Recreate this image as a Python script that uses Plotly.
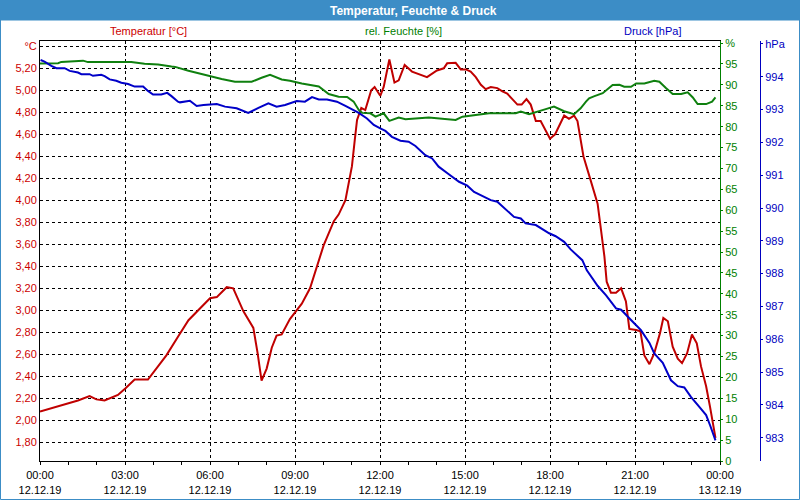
import pandas as pd
import plotly.graph_objects as go

# ---------------- data (hours after 12.12.19 00:00) ----------------
temp_hours = [0.00, 0.40, 0.87, 1.34, 1.75, 1.99, 2.28, 2.75, 3.01, 3.34, 3.81, 3.99, 4.46, 4.87,
              5.24, 6.00, 6.24, 6.59, 6.82, 7.18, 7.53, 7.68, 7.82, 8.00, 8.18, 8.35, 8.53, 8.82,
              9.24, 9.53, 9.71, 10.01, 10.37, 10.54, 10.78, 10.90, 11.01, 11.11, 11.19, 11.34,
              11.48, 11.69, 11.81, 12.01, 12.13, 12.33, 12.51, 12.66, 12.87, 13.13, 13.42, 13.66,
              14.01, 14.25, 14.37, 14.67, 14.85, 15.03, 15.20, 15.38, 15.56, 15.73, 15.91, 16.14,
              16.32, 16.49, 16.67, 16.85, 17.00, 17.17, 17.32, 17.50, 17.67, 17.85, 18.00, 18.18,
              18.34, 18.50, 18.67, 18.85, 18.97, 19.08, 19.18, 19.39, 19.57, 19.68, 19.80, 19.92,
              20.00, 20.15, 20.33, 20.51, 20.68, 20.80, 21.04, 21.19, 21.33, 21.51, 21.68, 21.88,
              22.00, 22.16, 22.33, 22.51, 22.66, 22.84, 23.01, 23.18, 23.33, 23.51, 23.65, 23.74, 23.84]
temp_values = [2.08, 2.11, 2.15, 2.18, 2.22, 2.19, 2.18, 2.23, 2.29, 2.37, 2.37, 2.43, 2.59, 2.76,
               2.91, 3.11, 3.12, 3.21, 3.20, 2.99, 2.84, 2.61, 2.36, 2.47, 2.66, 2.77, 2.78, 2.92,
               3.06, 3.20, 3.35, 3.59, 3.81, 3.87, 4.00, 4.16, 4.31, 4.55, 4.73, 4.84,
               4.82, 5.00, 5.03, 4.95, 5.03, 5.28, 5.07, 5.09, 5.23, 5.17, 5.14, 5.12,
               5.18, 5.20, 5.245, 5.25, 5.19, 5.19, 5.17, 5.12, 5.05, 5.01, 5.03, 5.02,
               4.99, 4.97, 4.92, 4.87, 4.87, 4.92, 4.87, 4.72, 4.72, 4.64, 4.56, 4.60,
               4.69, 4.77, 4.74, 4.77, 4.72, 4.55, 4.40, 4.22, 4.06, 3.97, 3.73, 3.49,
               3.26, 3.16, 3.16, 3.20, 3.08, 2.83, 2.82, 2.81, 2.59, 2.51, 2.61, 2.79,
               2.93, 2.90, 2.67, 2.56, 2.52, 2.61, 2.78, 2.70, 2.49, 2.31, 2.12, 1.97, 1.84]

hum_hours = [0.00, 0.64, 0.75, 1.52, 1.69, 3.22, 3.69, 4.17, 4.64, 4.77, 5.24, 5.59, 6.00, 6.41,
             6.88, 7.47, 7.82, 8.12, 8.53, 8.82, 9.24, 9.71, 9.84, 10.19, 10.54, 10.84, 11.07,
             11.25, 11.37, 11.66, 11.84, 12.13, 12.33, 12.66, 12.90, 13.72, 14.31, 14.54, 14.67,
             14.91, 15.38, 15.85, 16.79, 16.97, 17.26, 17.61, 17.85, 18.14, 18.50, 18.85, 19.08,
             19.27, 19.38, 19.57, 19.86, 20.21, 20.45, 20.62, 20.86, 21.04, 21.33, 21.68, 21.86,
             22.10, 22.33, 22.63, 22.86, 23.04, 23.21, 23.51, 23.72, 23.84]
hum_values = [95.1, 95.2, 95.5, 95.8, 95.45, 95.45, 95.05, 94.9, 94.4, 94.3, 93.4, 92.75, 92.1, 91.4,
              90.75, 90.75, 91.7, 92.4, 91.3, 91.0, 90.35, 89.7, 89.6, 87.8, 87.15, 87.1, 86.0,
              84.0, 83.3, 83.2, 82.4, 83.2, 81.4, 82.2, 81.8, 82.2, 81.8, 81.6, 81.6,
              82.4, 82.85, 83.2, 83.2, 83.6, 83.0, 83.8, 84.2, 84.8, 83.7, 83.0, 84.4,
              86.0, 86.8, 87.3, 88.0, 89.95, 90.0, 89.55, 89.55, 90.35, 90.35, 91.0, 90.75,
              89.2, 87.8, 87.8, 88.2, 87.0, 85.4, 85.4, 86.0, 87.0]

pres_hours = [0.02, 0.16, 0.40, 0.58, 0.87, 1.05, 1.34, 1.46, 1.75, 1.87, 2.16, 2.28, 2.46, 2.69,
              2.87, 3.11, 3.34, 3.64, 3.81, 3.99, 4.28, 4.49, 4.64, 4.77, 4.87, 4.94, 5.29, 5.53,
              5.77, 6.24, 6.53, 6.94, 7.35, 7.71, 8.06, 8.35, 8.65, 9.06, 9.35, 9.60, 9.84, 10.13,
              10.48, 10.78, 11.01, 11.25, 11.54, 11.78, 12.01, 12.19, 12.42, 12.72, 13.01, 13.25,
              13.60, 13.84, 14.07, 14.31, 14.44, 14.79, 15.08, 15.32, 15.73, 15.91, 16.14, 16.44,
              16.73, 16.97, 17.14, 17.50, 17.73, 17.97, 18.20, 18.50, 18.73, 18.97, 19.14, 19.30,
              19.45, 19.68, 19.98, 20.33, 20.51, 20.74, 20.98, 21.21, 21.51, 21.68, 21.98, 22.27,
              22.51, 22.74, 22.98, 23.27, 23.51, 23.65, 23.84]
pres_values = [994.51, 994.46, 994.33, 994.26, 994.26, 994.18, 994.13, 994.08, 994.08, 994.03,
               994.06, 994.02, 993.92, 993.88, 993.82, 993.78, 993.70, 993.70, 993.57, 993.46,
               993.46, 993.51, 993.41, 993.31, 993.24, 993.22, 993.27, 993.11, 993.14, 993.17,
               993.09, 993.04, 992.90, 993.05, 993.19, 993.09, 993.14, 993.26, 993.24, 993.38,
               993.31, 993.31, 993.24, 993.11, 993.01, 992.90, 992.73, 992.53, 992.43, 992.35,
               992.17, 992.05, 992.02, 991.89, 991.61, 991.51, 991.26, 991.09, 991.02, 990.80,
               990.68, 990.49, 990.32, 990.24, 990.19, 989.96, 989.73, 989.68, 989.53, 989.48,
               989.35, 989.23, 989.14, 988.97, 988.74, 988.56, 988.41, 988.10, 987.90, 987.63,
               987.34, 986.94, 986.90, 986.68, 986.48, 986.28, 985.89, 985.57, 985.28, 984.75,
               984.57, 984.53, 984.24, 983.94, 983.69, 983.38, 982.92]

temp_ticks = [1.8, 2.0, 2.2, 2.4, 2.6, 2.8, 3.0, 3.2, 3.4, 3.6, 3.8, 4.0, 4.2, 4.4, 4.6, 4.8, 5.0, 5.2, 5.4]
hum_ticks = list(range(0, 101, 5))
pres_ticks = list(range(983, 996))

title_text = "Temperatur, Feuchte & Druck"
series_names = ["Temperatur [°C]", "rel. Feuchte [%]", "Druck [hPa]"]

# ---------------- styling ----------------
RED_T, RED_L = "#cc0000", "#c00000"
GRN_T, GRN_L = "#008000", "#0f800f"
BLU_T, BLU_L = "#0000c0", "#0000c8"
BAR = "#3c8dc6"
FONT = "Liberation Sans"

start = pd.Timestamp("2019-12-12 00:00")
def to_time(hours):
    return start + pd.to_timedelta(hours, unit="h")

W, H = 800, 500
ML, MR, MT, MB = 40, 40, 41, 39
PW, PH = W - ML - MR, H - MT - MB
def px(x):
    return (x - ML) / PW
def py(y):
    return (H - MB - y) / PH

fig = go.Figure()
fig.add_trace(go.Scatter(x=to_time(temp_hours), y=temp_values, mode="lines",
                         line=dict(color=RED_L, width=2), yaxis="y", name=series_names[0]))
fig.add_trace(go.Scatter(x=to_time(hum_hours), y=hum_values, mode="lines",
                         line=dict(color=GRN_L, width=2), yaxis="y2", name=series_names[1]))
fig.add_trace(go.Scatter(x=to_time(pres_hours), y=pres_values, mode="lines",
                         line=dict(color=BLU_L, width=2), yaxis="y3", name=series_names[2]))

xdom_end = 680 / PW
fig.update_layout(
    width=W, height=H, margin=dict(l=ML, r=MR, t=MT, b=MB, pad=0, autoexpand=False),
    paper_bgcolor="white", plot_bgcolor="white", showlegend=False,
    font=dict(family=FONT, size=11, color="black"),
    xaxis=dict(domain=[0, xdom_end], type="date", automargin=False,
               range=[start, start + pd.Timedelta(hours=24)],
               tick0=start, dtick=3 * 3600000, tickformat="%H:%M<br>%d.%m.%y",
               ticks="outside", ticklen=3, tickcolor="black", tickwidth=1, ticklabelstandoff=1,
               showgrid=True, gridcolor="black", griddash="3px,3px", gridwidth=1,
               showline=True, linecolor="black", linewidth=1, mirror=True,
               zeroline=False, tickfont=dict(size=11, color="black"),
               minor=dict(dtick=3600000, ticks="outside", ticklen=3, tickcolor="black", showgrid=False)),
    yaxis=dict(range=[1.630, 5.448], tickvals=temp_ticks, automargin=False,
               ticktext=[f"{v:.2f}".replace(".", ",") for v in temp_ticks[:-1]] + ["°C"],
               showgrid=True, gridcolor="black", griddash="3px,3px", gridwidth=1,
               showline=True, linecolor="black", linewidth=1, ticks="", zeroline=False,
               tickfont=dict(size=11, color=RED_T)),
    yaxis2=dict(range=[0, 100.5], overlaying="y", side="right", anchor="x", automargin=False,
                tickvals=hum_ticks, ticktext=[str(v) for v in hum_ticks[:-1]] + ["%"],
                showgrid=False, showline=True, linecolor=GRN_T, linewidth=1,
                ticks="outside", ticklen=2, tickcolor=GRN_T, zeroline=False,
                tickfont=dict(size=11, color=GRN_T)),
    yaxis3=dict(range=[982.29, 995.09], overlaying="y", side="right", anchor="free", position=1.0,
                automargin=False,
                tickvals=pres_ticks, ticktext=[str(v) for v in pres_ticks[:-1]] + ["hPa"],
                showgrid=False, showline=True, linecolor=BLU_T, linewidth=1,
                ticks="outside", ticklen=2, tickcolor=BLU_T, zeroline=False,
                tickfont=dict(size=11, color=BLU_T)),
    shapes=[
        dict(type="rect", xref="paper", yref="paper", x0=px(0), x1=px(800), y0=py(20.5), y1=py(0),
             fillcolor=BAR, line=dict(width=0), layer="below"),
        dict(type="rect", xref="paper", yref="paper", x0=px(0.5), x1=px(799.5), y0=py(499.5), y1=py(0.5),
             fillcolor="rgba(0,0,0,0)", line=dict(color=BAR, width=1)),
    ],
    annotations=[
        dict(text=f"<b>{title_text}</b>", xref="paper", yref="paper", x=px(413), y=py(10.5),
             showarrow=False, xanchor="center", yanchor="middle",
             font=dict(family=FONT, size=12, color="white")),
        dict(text=series_names[0], xref="paper", yref="paper", x=px(148), y=py(31),
             showarrow=False, xanchor="center", yanchor="middle", font=dict(size=11, color=RED_T)),
        dict(text=series_names[1], xref="paper", yref="paper", x=px(403), y=py(31),
             showarrow=False, xanchor="center", yanchor="middle", font=dict(size=11, color=GRN_T)),
        dict(text=series_names[2], xref="paper", yref="paper", x=px(652), y=py(31),
             showarrow=False, xanchor="center", yanchor="middle", font=dict(size=11, color=BLU_T)),
    ],
)

fig.write_html("out.html")
